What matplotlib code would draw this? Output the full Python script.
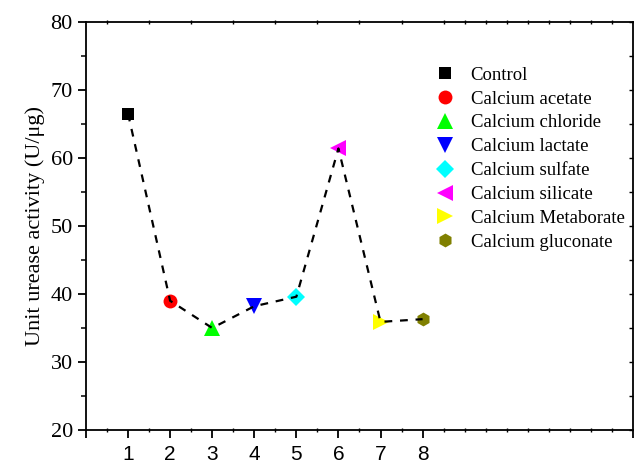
import matplotlib
matplotlib.use("Agg")
import matplotlib.pyplot as plt
from matplotlib.ticker import MultipleLocator, FixedLocator, FuncFormatter

labels = ["Control", "Calcium acetate", "Calcium chloride", "Calcium lactate",
          "Calcium sulfate", "Calcium silicate", "Calcium Metaborate", "Calcium gluconate"]
x_vals = [1, 2, 3, 4, 5, 6, 7, 8]
y_vals = [66.5, 39.0, 35.0, 38.2, 39.6, 61.4, 35.9, 36.3]
colors = ["#000000", "#ff0000", "#00ff00", "#0000ff", "#00ffff", "#ff00ff", "#ffff00", "#808000"]
markers = ["s", "o", "^", "v", "D", "<", ">", "h"]
sizes = [9, 10, 11, 11, 9, 11, 11, 10]
xtick_labels = ["1", "2", "3", "4", "5", "6", "7", "8"]

fig = plt.figure(figsize=(6.35, 4.67), dpi=100)
ax = fig.add_axes([0.1354, 0.0792, 0.8614, 0.8738])

ax.plot(x_vals, y_vals, linestyle=(0, (3.5, 3.5)), color="black", lw=1.6, zorder=3)
for xv, yv, c, m, s, lab in zip(x_vals, y_vals, colors, markers, sizes, labels):
    ax.plot([xv], [yv], linestyle="none", marker=m, color=c, markersize=s,
            markeredgewidth=0, label=lab, zorder=2)

ax.set_xlim(0, 13)
ax.set_ylim(20, 80)

ax.xaxis.set_major_locator(FixedLocator([0, 1, 2, 3, 4, 5, 6, 7, 8, 13]))
ax.xaxis.set_major_formatter(FuncFormatter(
    lambda v, p: xtick_labels[int(round(v)) - 1] if 1 <= v <= 8 else ""))
ax.xaxis.set_minor_locator(MultipleLocator(0.5))
ax.yaxis.set_major_locator(MultipleLocator(10))
ax.yaxis.set_minor_locator(MultipleLocator(5))

ax.tick_params(axis="x", which="major", direction="out", length=6, width=1.3,
               top=False, labelsize=15, pad=5)
ax.tick_params(axis="x", which="minor", direction="inout", length=3, width=1,
               top=True, bottom=True)
ax.tick_params(axis="y", which="major", direction="out", length=6, width=1.3,
               right=False, labelsize=16)
ax.tick_params(axis="y", which="minor", direction="out", length=3.5, width=1.1, right=False)
for lab in ax.get_xticklabels():
    lab.set_fontfamily("Liberation Sans")
for lab in ax.get_yticklabels():
    lab.set_fontfamily("Liberation Serif")

# right spine ticks pointing inward every 5
ax2 = ax.twinx()
ax2.set_ylim(20, 80)
ax2.yaxis.set_major_locator(MultipleLocator(5))
ax2.tick_params(axis="y", direction="in", length=3, width=1, labelright=False)
for sp in ax2.spines.values():
    sp.set_visible(False)

for sp in ax.spines.values():
    sp.set_linewidth(1.3)

ax.set_ylabel("Unit urease activity (U/μg)", fontsize=16, family="Liberation Serif", labelpad=4)

ax.legend(loc="upper left", bbox_to_anchor=(0.626, 0.909), frameon=False,
          prop={"family": "Liberation Serif", "size": 13.5},
          handlelength=1.0, handletextpad=0.85, labelspacing=0.36, borderaxespad=0)

fig.savefig("out.png", dpi=100)
